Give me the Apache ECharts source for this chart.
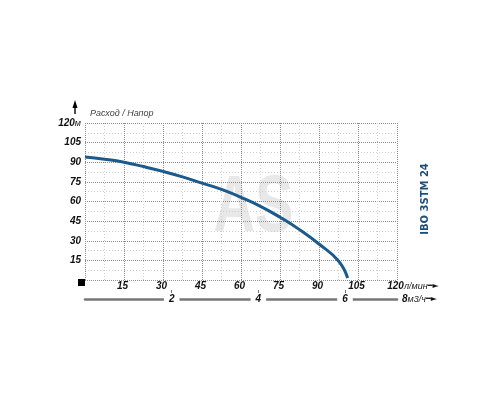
<!DOCTYPE html>
<html><head><meta charset="utf-8">
<script src="https://cdn.jsdelivr.net/npm/echarts@6/dist/echarts.min.js"></script>
<style>html,body{margin:0;padding:0;background:#fff}#c{width:500px;height:400px}</style>
</head><body><div id="c"></div>
<script>
// Pump curve IBO 3STM 24: flow (l/min) vs head (m)
const flowLpm = [0, 7.5, 15, 22.5, 30, 37.5, 45, 52.5, 60, 67.5, 75, 82.5, 90, 97.5, 101];
const headM   = [94, 92.3, 90, 86.7, 83, 78.8, 74, 69.3, 63.2, 56.3, 48, 38.5, 27.5, 14.5, 1.5];
const flowTickStep = 15, flowMax = 120;
const headTickStep = 15, headMax = 120;
const m3hTicks = [2, 4, 6];
const m3hEndLabel = '8';
const LPM_PER_M3H = 1000 / 60;

const FONT = 'Liberation Sans';
const lab = {fontFamily: FONT, fontStyle: 'italic', fontWeight: 'bold', fontSize: 10, color: '#111'};
const unit = {fontFamily: FONT, fontStyle: 'italic', fontWeight: 'normal', fontSize: 9, color: '#222'};
const arr = {fontFamily: 'DejaVu Sans', fontSize: 8, color: '#111'};
const minorLine = {show: true, lineStyle: {color: '#cfcfcf', type: [1, 2], width: 1}};
const minorTick = {show: true, splitNumber: 2, length: 0, lineStyle: {opacity: 0}};

const chart = echarts.init(document.getElementById('c'), null, {renderer: 'canvas'});
chart.setOption({
  animation: false,
  backgroundColor: '#fff',
  grid: {left: 85, right: 103, top: 123, bottom: 120},
  xAxis: [{
    type: 'value', min: 0, max: flowMax, interval: flowTickStep,
    axisLine: {show: false}, axisTick: {show: false},
    minorTick: minorTick,
    splitLine: {show: true, lineStyle: {color: '#8c8c8c', type: 'dotted', width: 1}},
    minorSplitLine: minorLine,
    axisLabel: {
      margin: 1, lineHeight: 10, padding: [0, 3, 0, 0],
      formatter: v => v === 0 ? '' : '{b|' + v + '}',
      rich: {b: lab}
    },
    name: '{u|л/мин}{a|━►}', nameLocation: 'end', nameGap: 7, nameMoveOverlap: false,
    nameTextStyle: {verticalAlign: 'top', lineHeight: 10, padding: [1, 0, 0, 0], rich: {u: unit, a: arr}}
  }, {
    type: 'value', min: 0, max: flowMax / LPM_PER_M3H, position: 'bottom', offset: 19,
    axisLine: {show: true, lineStyle: {color: '#777', width: 2.5}},
    axisTick: {show: true, inside: true, length: 9, customValues: m3hTicks, lineStyle: {color: '#777', width: 1}},
    splitLine: {show: false},
    axisLabel: {
      customValues: m3hTicks, margin: 0, verticalAlign: 'middle',
      backgroundColor: '#fff', padding: [1, 5],
      formatter: v => '{b|' + v + '}', rich: {b: lab}
    },
    name: '{b|' + m3hEndLabel + '}{u|м3/ч}{a|━►}', nameLocation: 'end', nameGap: 5, nameMoveOverlap: false,
    nameTextStyle: {verticalAlign: 'middle', rich: {b: lab, u: unit, a: arr}}
  }],
  yAxis: {
    type: 'value', min: 0, max: headMax, interval: headTickStep,
    axisLine: {show: false}, axisTick: {show: false},
    minorTick: minorTick,
    splitLine: {show: true, lineStyle: {color: '#8c8c8c', type: 'dotted', width: 1}},
    minorSplitLine: minorLine,
    axisLabel: {
      margin: 4,
      formatter: v => v === 0 ? '' : (v === headMax ? '{b|' + v + '}{u|м}' : '{b|' + v + '}'),
      rich: {b: lab, u: unit}
    },
    name: 'Расход / Напор', nameLocation: 'end', nameGap: 5, nameMoveOverlap: false,
    nameTextStyle: {align: 'left', padding: [0, 0, 0, 5], fontFamily: FONT, fontStyle: 'italic', fontSize: 9, color: '#444'}
  },
  graphic: [
    {type: 'text', x: 253.5, y: 209, scaleX: 0.72, z: -10, silent: true,
     style: {text: 'AS', font: 'bold 80px "Liberation Sans"', fill: '#e8e8e8', align: 'center', verticalAlign: 'middle'}},
    {type: 'text', x: 425, y: 199, rotation: Math.PI / 2, silent: true,
     style: {text: 'IBO 3STM 24', font: 'bold 10px "DejaVu Sans"', fill: '#1f4f7c', align: 'center', verticalAlign: 'middle'}},
    {type: 'rect', shape: {x: 78, y: 279, width: 7, height: 7}, style: {fill: '#000'}, silent: true},
    {type: 'polygon', shape: {points: [[75, 100], [72.5, 108], [77.5, 108]]}, style: {fill: '#000'}, silent: true},
    {type: 'rect', shape: {x: 74.3, y: 106, width: 1.4, height: 8}, style: {fill: '#000'}, silent: true}
  ],
  series: [{
    type: 'line', xAxisIndex: 0, smooth: true, symbol: 'none',
    lineStyle: {color: '#1b5a8c', width: 3},
    data: flowLpm.map((q, i) => [q, headM[i]])
  }]
});
</script></body></html>
